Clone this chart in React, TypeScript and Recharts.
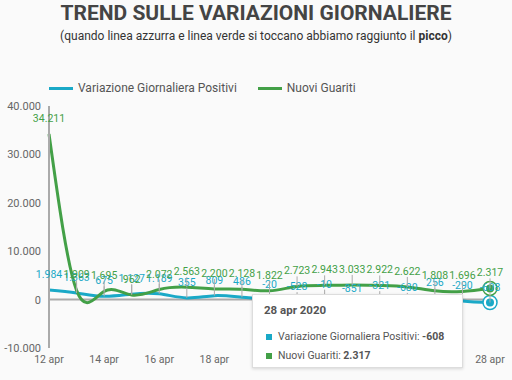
import React from 'react';
import { LineChart, Line, XAxis, YAxis, Tooltip, ReferenceLine, LabelList } from 'recharts';

const days = ['12 apr', '13 apr', '14 apr', '15 apr', '16 apr', '17 apr', '18 apr', '19 apr', '20 apr', '21 apr', '22 apr', '23 apr', '24 apr', '25 apr', '26 apr', '27 apr', '28 apr'];
const positivi = [1984, 1363, 675, 1127, 1189, 355, 809, 486, -20, -528, -10, -851, -321, -680, 256, -290, -608];
const guariti = [34211, 1909, 1695, 962, 2072, 2563, 2200, 2128, 1822, 2723, 2943, 3033, 2922, 2622, 1808, 1696, 2317];
const yTicks = [-10000, 0, 10000, 20000, 30000, 40000];

const BLUE = '#1aa9c7';
const GREEN = '#43a047';

const data = days.map((d, i) => ({ day: d, positivi: positivi[i], guariti: guariti[i] }));

const fmt = (v: number) => {
  const s = Math.abs(v).toString().replace(/\B(?=(\d{3})+(?!\d))/g, '.');
  return v < 0 ? '-' + s : s;
};

const makeLabel = (color: string) => (props: any) => {
  const { x, y, value } = props;
  return (
    <g>
      <line x1={x} x2={x} y1={y - 10} y2={y} stroke="#aaa" strokeWidth={1} />
      <text x={x} y={y - 12} textAnchor="middle" fill={color} fontSize={10.5}>
        {fmt(value)}
      </text>
    </g>
  );
};

const makeDot = (color: string) => (props: any) => {
  const { cx, cy } = props;
  return (
    <g>
      <circle cx={cx} cy={cy} r={7} fill="#fff" stroke={color} strokeWidth={1.5} />
      <circle cx={cx} cy={cy} r={4} fill={color} />
    </g>
  );
};

const TipBox = ({ active }: any) => {
  if (!active) return null;
  const i = days.length - 1;
  const row = { whiteSpace: 'nowrap' as const, height: 19, lineHeight: '19px' };
  const mark = (c: string) => (
    <span style={{ display: 'inline-block', width: 6, height: 6, background: c, marginLeft: 2, marginRight: 6, verticalAlign: 'middle' }} />
  );
  return (
    <div
      style={{
        width: 211,
        height: 74,
        boxSizing: 'border-box',
        background: '#fff',
        border: '1px solid #ddd',
        boxShadow: '0 1px 3px rgba(0,0,0,0.15)',
        padding: '8px 11px',
        fontSize: 10.5,
        color: '#555',
      }}
    >
      <div style={{ fontWeight: 'bold', fontSize: 11.5, height: 24 }}>{days[i]} 2020</div>
      <div style={row}>
        {mark(BLUE)}Variazione Giornaliera Positivi: <b>{fmt(positivi[i])}</b>
      </div>
      <div style={row}>
        {mark(GREEN)}Nuovi Guariti: <b>{fmt(guariti[i])}</b>
      </div>
    </div>
  );
};

export default function App() {
  return (
    <div
      style={{
        position: 'fixed',
        left: 0,
        top: 0,
        width: 512,
        height: 380,
        background: '#fafafa',
        fontFamily: 'Roboto, sans-serif',
      }}
    >
      <div
        style={{
          position: 'absolute',
          top: 1,
          width: 512,
          textAlign: 'center',
          fontSize: 21,
          fontWeight: 'bold',
          color: '#444',
        }}
      >
        TREND SULLE VARIAZIONI GIORNALIERE
      </div>
      <div style={{ position: 'absolute', top: 29, width: 512, textAlign: 'center', fontSize: 12, color: '#333' }}>
        (quando linea azzurra e linea verde si toccano abbiamo raggiunto il <b>picco</b>)
      </div>
      <div
        style={{
          position: 'absolute',
          top: 81,
          left: 49,
          display: 'flex',
          alignItems: 'center',
          fontSize: 12,
          color: '#555',
          whiteSpace: 'nowrap',
        }}
      >
        <span style={{ width: 24, height: 3, background: BLUE, marginRight: 5 }} />
        <span style={{ marginRight: 21 }}>Variazione Giornaliera Positivi</span>
        <span style={{ width: 24, height: 3, background: GREEN, marginRight: 5 }} />
        <span>Nuovi Guariti</span>
      </div>
      <LineChart width={512} height={380} data={data} margin={{ top: 106, right: 22, bottom: 10, left: 0 }}>
        <XAxis dataKey="day" interval={1} axisLine={false} tickLine={false} height={22} tick={{ fill: '#666', fontSize: 10.5 }} />
        <YAxis
          domain={[-10000, 40000]}
          ticks={yTicks}
          width={49}
          tickFormatter={fmt}
          axisLine={{ stroke: '#aaa', strokeWidth: 2 }}
          tickLine={false}
          tick={{ fill: '#666', fontSize: 11 }}
        />
        <ReferenceLine y={0} stroke="#aaa" strokeWidth={2} />
        <Line
          type="natural"
          dataKey="positivi"
          stroke={BLUE}
          strokeWidth={3}
          dot={false}
          activeDot={makeDot(BLUE)}
          isAnimationActive={false}
        >
          <LabelList dataKey="positivi" content={makeLabel(BLUE)} />
        </Line>
        <Line
          type="natural"
          dataKey="guariti"
          stroke={GREEN}
          strokeWidth={3}
          dot={false}
          activeDot={makeDot(GREEN)}
          isAnimationActive={false}
        >
          <LabelList dataKey="guariti" content={makeLabel(GREEN)} />
        </Line>
        <Tooltip
          content={<TipBox />}
          defaultIndex={16}
          active
          cursor={false}
          position={{ x: 252, y: 294 }}
          isAnimationActive={false}
          wrapperStyle={{ outline: 'none' }}
        />
      </LineChart>
    </div>
  );
}
